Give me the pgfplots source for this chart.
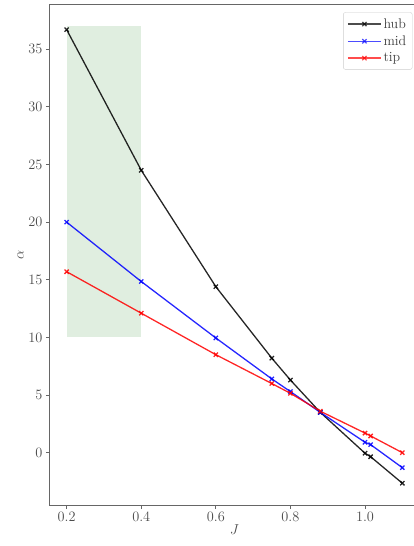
\documentclass[border=0pt]{standalone}
\usepackage{pgfplots}
\pgfplotsset{compat=1.18}
\begin{document}
\begin{tikzpicture}
\useasboundingbox (-49.5bp,-40.3bp) rectangle (364.5bp,505.7bp);
\begin{axis}[
  scale only axis,
  width=369.6bp, height=501.4bp,
  xmin=0.154, xmax=1.145,
  ymin=-4.6, ymax=38.9,
  axis line style={black!60, line width=1pt},
  tick style={black!60, line width=0.8pt},
  tick align=outside,
  major tick length=3.5bp,
  xtick pos=left, ytick pos=left,
  xtick={0.2,0.4,0.6,0.8,1.0},
  ytick={0,5,10,15,20,25,30,35},
  xticklabel style={/pgf/number format/fixed,/pgf/number format/fixed zerofill,/pgf/number format/precision=1},
  ticklabel style={text=black!70, font=\fontsize{13.5}{16}\selectfont},
  xlabel={$J$}, ylabel={$\alpha$},
  label style={text=black!70, font=\fontsize{13.5}{16}\selectfont},
  xlabel style={yshift=4bp},
  ylabel style={yshift=-2bp},
  legend style={at={(0.982,0.984)}, anchor=north east, draw=black!20, rounded corners=2pt, font=\fontsize{14}{17}\selectfont, row sep=2pt, inner sep=4pt, text=black!75},
  legend cell align=left,
  legend image code/.code={\draw[mark repeat=2,mark phase=2,#1] plot coordinates {(0cm,0cm) (0.58cm,0cm) (1.16cm,0cm)};},
  legend image post style={opacity=0.7, line width=1.3pt},
  mark options={solid, scale=1.5},
]
\addplot[draw=none, fill=green!45!black, fill opacity=0.12, forget plot] coordinates {(0.2,10) (0.4,10) (0.4,37) (0.2,37)} -- cycle;
\addplot[black, mark=x, line width=1.3pt, opacity=0.85] coordinates {
(0.2,36.7) (0.4,24.5) (0.6,14.4) (0.75,8.2) (0.8,6.3) (0.88,3.5) (1.0,-0.05) (1.015,-0.35) (1.1,-2.65)};
\addlegendentry{hub}
\addplot[blue, mark=x, line width=1.3pt, opacity=0.85] coordinates {
(0.2,20.0) (0.4,14.85) (0.6,9.95) (0.75,6.4) (0.8,5.3) (0.88,3.5) (1.0,0.9) (1.015,0.7) (1.1,-1.3)};
\addlegendentry{mid}
\addplot[red, mark=x, line width=1.3pt, opacity=0.85] coordinates {
(0.2,15.7) (0.4,12.1) (0.6,8.5) (0.75,6.0) (0.8,5.15) (0.88,3.6) (1.0,1.7) (1.015,1.45) (1.1,0.0)};
\addlegendentry{tip}
\end{axis}
\end{tikzpicture}
\end{document}
